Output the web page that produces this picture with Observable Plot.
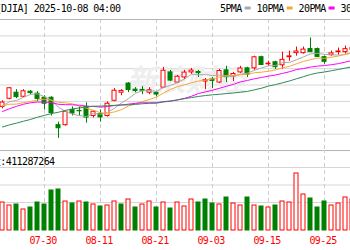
<!DOCTYPE html>
<html><head><meta charset="utf-8">
<script src="https://cdn.jsdelivr.net/npm/d3@7"></script>
<script src="https://cdn.jsdelivr.net/npm/@observablehq/plot@0.6"></script>
<style>
html,body{margin:0;padding:0;background:#fff;}
#chart{position:relative;width:350px;height:250px;overflow:hidden;background:#fff;}
#chart svg{position:absolute;left:0;}
</style></head><body><div id="chart"></div>
<script>
// ---- data ----
const title = "[DJIA] 2025-10-08 04:00";
const volumeLabel = "成交量:411287264";
const maLabels = ["5PMA", "10PMA", "20PMA", "30PMA"];
const maColors = ["#aaaaaa", "#f7a83a", "#ff00ff", "#2e8b57"];
const dates = ["07-22","07-23","07-24","07-25","07-28","07-29","07-30","07-31","08-01","08-04","08-05","08-06","08-07","08-08","08-11","08-12","08-13","08-14","08-15","08-18","08-19","08-20","08-21","08-22","08-25","08-26","08-27","08-28","08-29","09-02","09-03","09-04","09-05","09-08","09-09","09-10","09-11","09-12","09-15","09-16","09-17","09-18","09-19","09-22","09-23","09-24","09-25","09-26","09-29","09-30","10-01"];
const tickDates = ["07-30","08-11","08-21","09-03","09-15","09-25"];
const open = [44348,44636,44852,44708,44888,44816,44672,44672,43700,43700,44240,44204,44348,44024,44096,44024,44564,44852,45176,44960,44950,44852,44850,45032,45572,45212,45392,45572,45590,45248,45320,45212,45644,45428,45572,45716,45716,46112,45860,45932,45824,46112,46256,46256,46400,46400,46112,46184,46292,46292,46364];
const high = [44564,45032,44960,44960,44924,44888,44744,44708,43808,44200,44348,44348,44492,44204,44240,44528,44996,44960,45212,45032,45068,45032,44870,45752,45644,45464,45644,45716,45644,45356,45392,45680,45788,45572,45788,45752,46148,46148,45968,45968,46292,46328,46472,46472,46796,46436,46148,46328,46436,46508,46544];
const low = [44276,44600,44640,44672,44780,44528,44240,44024,43232,43664,44024,44024,43772,43952,43808,43988,44528,44744,44852,44852,44780,44780,44708,44996,45248,45176,45320,45500,45392,44960,44996,45176,45212,45248,45536,45392,45644,45824,45788,45680,45680,45968,46148,46220,46292,46100,45860,46148,46184,46220,46292];
const close = [44502,45010,44694,44902,44837,44632,44461,44131,43589,44174,44112,44193,43969,44176,43975,44459,44922,44911,44946,44912,44922,44938,44786,45632,45282,45418,45565,45637,45545,45296,45271,45621,45401,45515,45711,45490,46108,45834,45883,45758,46018,46142,46315,46381,46292,46121,45947,46247,46316,46398,46441];
const prevClose = 44323;
const volume = [448,400,416,336,368,448,416,640,656,464,432,464,448,416,384,400,464,416,496,368,416,464,368,448,352,448,384,496,448,496,432,416,528,432,400,528,400,384,368,400,464,448,912,576,512,368,464,400,432,528,496];
const ma5 = [44381,44532,44574,44686,44789,44815,44705,44593,44330,44197,44093,44040,44007,44125,44085,44154,44300,44489,44643,44830,44923,44926,44901,45038,45112,45211,45337,45507,45489,45492,45463,45474,45427,45421,45504,45548,45645,45732,45805,45815,45920,45927,46023,46123,46230,46250,46211,46198,46185,46206,46270];
const ma10 = [44387,44442,44446,44500,44537,44598,44619,44584,44508,44493,44454,44373,44300,44228,44141,44124,44170,44248,44384,44458,44539,44613,44695,44841,44971,45067,45132,45204,45264,45302,45337,45406,45467,45455,45498,45506,45560,45580,45613,45660,45734,45786,45878,45964,46023,46085,46069,46111,46154,46218,46260];
const ma20 = [44185,44281,44367,44443,44493,44520,44519,44501,44439,44427,44421,44408,44373,44364,44339,44361,44395,44416,44446,44476,44497,44493,44498,44535,44556,44596,44651,44726,44824,44880,44938,45010,45081,45148,45235,45287,45346,45392,45439,45481,45536,45596,45673,45710,45761,45796,45815,45846,45884,45939,45997];
const ma30 = [43635,43710,43771,43839,43901,43982,44047,44111,44158,44224,44275,44312,44344,44371,44376,44388,44402,44417,44420,44437,44460,44476,44480,44523,44550,44596,44640,44679,44719,44751,44777,44797,44821,44841,44870,44899,44954,45011,45087,45140,45203,45268,45347,45420,45497,45553,45587,45632,45677,45727,45777];

// ---- layout ----
const FONT = "'DejaVu Sans Mono','Noto Sans CJK SC',monospace";
const RED = "#ff0000", GREEN = "#008000";
const GRID = "#d6d6d6", BORDER = "#b4b4b4", VGRID = "#cdcdcd";
const yMin = 42800, yMax = 47450;
const half = 2 / 7;
const xScale = {type: "linear", domain: [-2 / 7, 348 / 7]};

const candles = dates.map((date, i) => ({
  i, date, open: open[i], high: high[i], low: low[i], close: close[i], volume: volume[i],
  up: close[i] >= open[i], volUp: close[i] >= (i ? close[i - 1] : prevClose)
}));
const upC = candles.filter(d => d.up), dnC = candles.filter(d => !d.up);
const volUpC = candles.filter(d => d.volUp), volDnC = candles.filter(d => !d.volUp);
const tickIdx = tickDates.map(t => dates.indexOf(t));
const maSeries = [ma5, ma10, ma20, ma30];
const svgStyle = {fontFamily: FONT, fontSize: "10px", letterSpacing: "-0.6px", background: "transparent", overflow: "hidden"};

const main = Plot.plot({
  width: 350, height: 150, marginLeft: 0, marginRight: 0, marginTop: 19, marginBottom: 0,
  style: svgStyle,
  x: {...xScale, axis: null},
  y: {domain: [yMin, yMax], axis: null},
  marks: [
    Plot.ruleY(d3.range(1, 8).map(k => yMin + k * (yMax - yMin) / 8), {stroke: GRID}),
    Plot.ruleX(tickIdx, {stroke: VGRID, strokeDasharray: "4,3"}),
    Plot.text(["新浪财经"], {frameAnchor: "middle", dx: 10, dy: -4, fontSize: 30, fontWeight: "bold", fontStyle: "italic", fill: "#eeeeee", fontFamily: "'Noto Sans CJK SC'"}),
    Plot.ruleX(dnC, {x: "i", y1: "low", y2: "high", stroke: GREEN}),
    Plot.rect(dnC, {x1: d => d.i - half, x2: d => d.i + half, y1: "open", y2: "close", fill: GREEN, stroke: GREEN}),
    Plot.ruleX(upC, {x: "i", y1: "low", y2: "high", stroke: RED}),
    Plot.rect(upC, {x1: d => d.i - half, x2: d => d.i + half, y1: "open", y2: "close", fill: "white", stroke: RED}),
    ...maSeries.map((arr, k) => Plot.line(arr, {x: (d, i) => i, y: d => d, stroke: maColors[k], strokeWidth: 1})),
    Plot.ruleY([yMax], {stroke: BORDER})
  ]
});

const volTop = 1008;
const vol = Plot.plot({
  width: 350, height: 100, marginLeft: 0, marginRight: 0, marginTop: 17, marginBottom: 20,
  style: svgStyle,
  x: {...xScale},
  y: {domain: [0, volTop], axis: null},
  marks: [
    Plot.ruleY([volTop, volTop * 0.7222, volTop * 0.4444], {stroke: GRID}),
    Plot.ruleY([volTop * 80 / 63], {stroke: BORDER}),
    Plot.ruleX(tickIdx, {y1: 0, y2: volTop * 80 / 63, stroke: VGRID, strokeDasharray: "4,3"}),
    Plot.rect(volDnC, {x1: d => d.i - half, x2: d => d.i + half, y1: 0, y2: "volume", fill: GREEN, stroke: GREEN}),
    Plot.rect(volUpC, {x1: d => d.i - half, x2: d => d.i + half, y1: 0, y2: "volume", fill: "white", stroke: RED}),
    Plot.text([volumeLabel], {frameAnchor: "top-left", dx: -28.4, dy: -2.6, lineAnchor: "bottom", textAnchor: "start", fill: "#000"}),
    Plot.axisX(tickIdx, {anchor: "bottom", tickSize: 0, tickPadding: 6.4, tickFormat: i => dates[i], color: RED, dx: -1.5, label: null})
  ]
});

main.style.top = "0px";
vol.style.top = "150px";
const chart = document.getElementById("chart");
chart.appendChild(main);
chart.appendChild(vol);

// header: title and legend
const sm = d3.select(main);
sm.append("text").attr("x", -4.3).attr("y", 12).attr("text-anchor", "start").attr("fill", "#000").text(title);
let lx = 220;
maLabels.forEach((lab, k) => {
  const w = lab.length * 5.4;
  sm.append("text").attr("x", lx).attr("y", 12).attr("text-anchor", "start").attr("fill", "#000").text(lab);
  sm.append("rect").attr("x", lx + w + 3).attr("y", 6.5).attr("width", 6).attr("height", 3).attr("fill", maColors[k]);
  lx += w + 15;
});
</script></body></html>
